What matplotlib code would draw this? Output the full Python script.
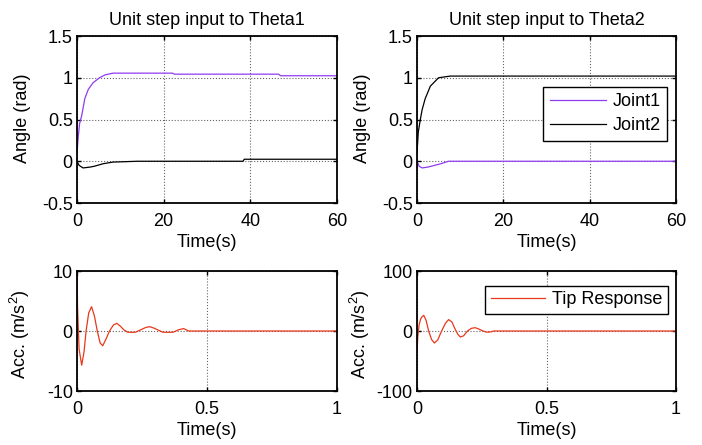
import matplotlib
matplotlib.use("Agg")
import matplotlib.pyplot as plt

plt.rcParams['font.family'] = ['Liberation Sans', 'DejaVu Sans']
plt.rcParams['axes.unicode_minus'] = False
plt.rcParams['mathtext.fontset'] = 'custom'
plt.rcParams['mathtext.rm'] = 'Liberation Sans'

# ---- data ----
t1_j1 = [0, 0.3, 0.6, 1.1, 1.8, 2.6, 3.7, 5.2, 6.5, 8.3, 22, 22.5, 46.5, 47, 60]
v1_j1 = [0.1, 0.3, 0.45, 0.55, 0.75, 0.86, 0.94, 1.0, 1.035, 1.055, 1.055, 1.043, 1.043, 1.024, 1.024]
t1_j2 = [0, 0.5, 1.4, 3, 4, 6, 8.3, 14, 38.3, 38.6, 60]
v1_j2 = [0, -0.05, -0.08, -0.07, -0.06, -0.03, -0.01, 0, 0, 0.024, 0.024]

t2_j1 = [0, 0.5, 1.2, 2.5, 4, 5.5, 7.3, 60]
v2_j1 = [0, -0.06, -0.08, -0.07, -0.05, -0.03, 0, 0]
t2_j2 = [0, 0.3, 0.77, 1.2, 1.9, 3.1, 5, 7.7, 60]
v2_j2 = [0.1, 0.35, 0.5, 0.62, 0.75, 0.9, 1.0, 1.02, 1.02]

t_tip1 = [0, 0.002, 0.008, 0.018, 0.027, 0.035, 0.045, 0.056, 0.067, 0.078, 0.089, 0.099,
          0.112, 0.125, 0.14, 0.153, 0.167, 0.18, 0.195, 0.21, 0.225, 0.25, 0.265, 0.28,
          0.295, 0.31, 0.33, 0.35, 0.37, 0.39, 0.41, 0.43, 1.0]
v_tip1 = [10, 4, -3, -5.7, -3.5, 0, 3, 4.05, 2.5, 0, -2, -2.45,
          -1.3, 0, 1.0, 1.28, 0.8, 0.2, -0.2, -0.22, -0.2, 0.3, 0.6, 0.72,
          0.5, 0.2, -0.2, -0.22, -0.2, 0.2, 0.4, 0, 0]

t_tip2 = [0, 0.003, 0.008, 0.014, 0.02, 0.026, 0.035, 0.045, 0.056, 0.067, 0.08, 0.095,
          0.11, 0.122, 0.135, 0.145, 0.157, 0.167, 0.18, 0.195, 0.21, 0.225, 0.24, 0.255,
          0.27, 0.285, 0.296, 1.0]
v_tip2 = [-35, -10, 10, 20, 24, 26, 18, 0, -14, -20, -15, 0,
          13, 19, 15, 5, -5, -10, -8, 0, 4.5, 5.5, 3, 0,
          -2, -1.5, 0, 0]

c_j1 = '#8f3cf0'
c_j2 = '#000000'
c_tip = '#e8381a'

fig = plt.figure(figsize=(7.02, 4.45), dpi=100)
W, H = 702.0, 445.0

def make_ax(l, t, r, b):
    return fig.add_axes([l / W, 1 - b / H, (r - l) / W, (b - t) / H])

ax1 = make_ax(77, 36, 337, 203)
ax2 = make_ax(417, 36, 676, 203)
ax3 = make_ax(77, 271, 337, 391)
ax4 = make_ax(417, 271, 676, 391)

fs = 13
for ax in (ax1, ax2, ax3, ax4):
    ax.tick_params(direction='in', top=True, right=True, length=3, width=1,
                   labelsize=fs)
    ax.tick_params(axis='x', pad=7)
    ax.tick_params(axis='y', pad=3)
    for s in ax.spines.values():
        s.set_linewidth(1.3)
    ax.grid(True, linestyle=':', color='#666666', linewidth=0.8)
    ax.set_axisbelow(True)

ax1.plot(t1_j1, v1_j1, color=c_j1, lw=0.9)
ax1.plot(t1_j2, v1_j2, color=c_j2, lw=0.9)
ax2.plot(t2_j1, v2_j1, color=c_j1, lw=0.9, label='Joint1')
ax2.plot(t2_j2, v2_j2, color=c_j2, lw=0.9, label='Joint2')

for ax, title in ((ax1, 'Unit step input to Theta1'), (ax2, 'Unit step input to Theta2')):
    ax.set_xlim(0, 60)
    ax.set_ylim(-0.5, 1.5)
    ax.set_xticks([0, 20, 40, 60])
    ax.set_yticks([-0.5, 0, 0.5, 1, 1.5])
    ax.set_yticklabels(['-0.5', '0', '0.5', '1', '1.5'])
    ax.set_xlabel('Time(s)', fontsize=fs, labelpad=3)
    ax.set_ylabel('Angle (rad)', fontsize=fs)
    ax.yaxis.set_label_coords(-0.177, 0.51)
    ax.set_title(title, fontsize=fs, pad=8)

leg = ax2.legend(loc='upper right', bbox_to_anchor=(0.966, 0.695), fontsize=fs,
                 fancybox=False, edgecolor='black', framealpha=1,
                 handlelength=3.1, handletextpad=0.4, borderpad=0.35,
                 labelspacing=0.4, borderaxespad=0)
leg.get_frame().set_linewidth(1.0)

ax3.plot(t_tip1, v_tip1, color=c_tip, lw=0.9)
ax4.plot(t_tip2, v_tip2, color=c_tip, lw=0.9, label='Tip Response')

ax3.set_ylim(-10, 10)
ax3.set_yticks([-10, 0, 10])
ax4.set_ylim(-100, 100)
ax4.set_yticks([-100, 0, 100])
for ax in (ax3, ax4):
    ax.set_xlim(0, 1)
    ax.set_xticks([0, 0.5, 1])
    ax.set_xticklabels(['0', '0.5', '1'])
    ax.set_xlabel('Time(s)', fontsize=fs, labelpad=3)
    ax.set_ylabel('Acc. (m/s$^2$)', fontsize=fs)
    ax.yaxis.set_label_coords(-0.172, 0.47)

leg2 = ax4.legend(loc='upper right', bbox_to_anchor=(0.969, 0.875), fontsize=fs,
                  fancybox=False, edgecolor='black', framealpha=1,
                  handlelength=3.0, handletextpad=0.4, borderpad=0.3,
                  borderaxespad=0)
leg2.get_frame().set_linewidth(1.0)

fig.savefig('out.png', dpi=100)
